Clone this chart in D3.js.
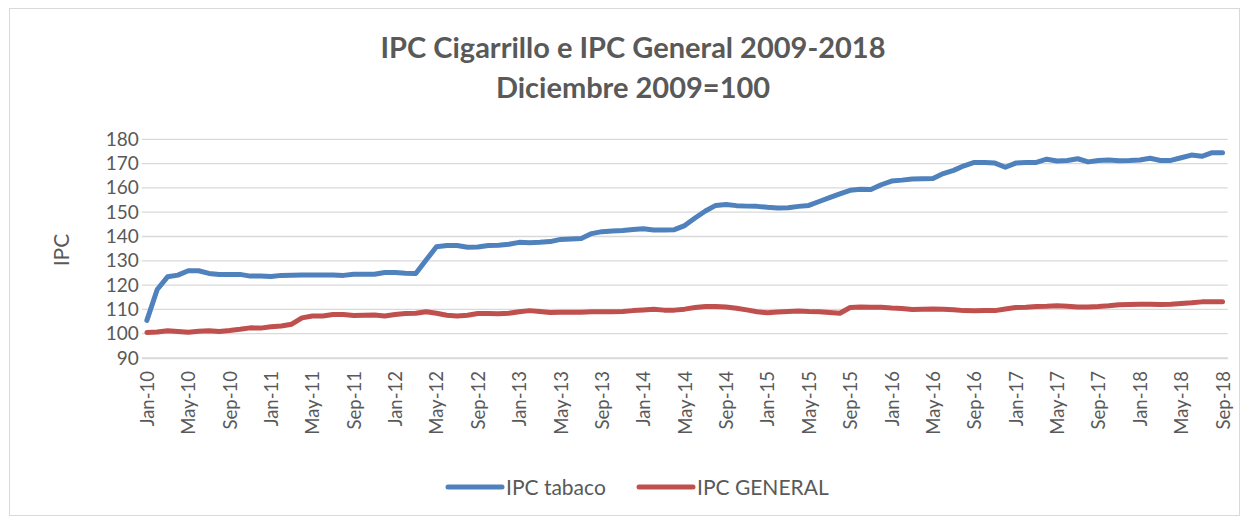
<!DOCTYPE html>
<html>
<head>
<meta charset="utf-8">
<script src="https://cdn.jsdelivr.net/npm/d3@7/dist/d3.min.js"></script>
<style>
    body { margin: 0; background: #fff; }
</style>
</head>
<body>
<div id="ipcchart"></div>
<script>
// categorias: meses Jan-10 .. Sep-18
const mesesAbrev = ["Jan", "Feb", "Mar", "Apr", "May", "Jun", "Jul", "Aug", "Sep", "Oct", "Nov", "Dec"];
const anios = ["10", "11", "12", "13", "14", "15", "16", "17", "18"];
const meses = [];
anios.forEach(a => mesesAbrev.forEach(m => meses.push(m + "-" + a)));
meses.splice(105); // hasta Sep-18

// IPC tabaco (Diciembre 2009 = 100)
const ipcTabaco = [
    105.5, 118.2, 123.4, 124.1, 125.9, 125.9, 124.8, 124.4, 124.4, 124.4,
    123.7, 123.7, 123.5, 124.0, 124.1, 124.2, 124.2, 124.2, 124.2, 124.0,
    124.5, 124.5, 124.5, 125.2, 125.2, 124.9, 124.8, 130.3, 135.8, 136.3,
    136.3, 135.6, 135.7, 136.3, 136.4, 136.8, 137.6, 137.4, 137.6, 137.9,
    138.8, 139.0, 139.2, 141.2, 142.0, 142.3, 142.5, 142.9, 143.2, 142.7,
    142.7, 142.8, 144.5, 147.6, 150.5, 152.8, 153.2, 152.7, 152.5, 152.4,
    152.0, 151.7, 151.8, 152.4, 152.8, 154.4, 156.0, 157.5, 159.0, 159.4,
    159.3, 161.3, 162.8, 163.2, 163.7, 163.8, 163.9, 165.9, 167.2, 169.1,
    170.5, 170.5, 170.2, 168.5, 170.2, 170.5, 170.5, 171.8, 171.1, 171.3,
    172.0, 170.7, 171.3, 171.5, 171.2, 171.3, 171.5, 172.2, 171.3, 171.3,
    172.4, 173.5, 173.0, 174.5, 174.5
];

// IPC general
const ipcGeneral = [
    100.5, 100.7, 101.2, 100.9, 100.6, 101.0, 101.2, 100.9, 101.3, 101.8,
    102.4, 102.3, 102.9, 103.2, 103.9, 106.5, 107.3, 107.3, 107.9, 107.9,
    107.5, 107.6, 107.7, 107.3, 107.9, 108.3, 108.4, 109.0, 108.4, 107.6,
    107.3, 107.6, 108.3, 108.3, 108.2, 108.4, 109.0, 109.5, 109.1, 108.7,
    108.8, 108.8, 108.8, 109.0, 109.0, 109.0, 109.1, 109.5, 109.8, 110.1,
    109.7, 109.7, 110.1, 110.8, 111.2, 111.2, 111.0, 110.5, 109.8, 109.0,
    108.6, 108.9, 109.1, 109.3, 109.1, 109.0, 108.7, 108.4, 110.8, 111.0,
    110.9, 110.9, 110.6, 110.4, 110.0, 110.1, 110.2, 110.1, 109.9, 109.5,
    109.4, 109.5, 109.5, 110.2, 110.8, 110.9, 111.2, 111.3, 111.5, 111.3,
    111.0, 111.0, 111.2, 111.5, 111.9, 112.0, 112.1, 112.1, 112.0, 112.1,
    112.4, 112.7, 113.1, 113.1, 113.1
];

const yTicks = [90, 100, 110, 120, 130, 140, 150, 160, 170, 180];
const series = [
    {name: "IPC tabaco", values: ipcTabaco, color: "#4f81bd"},
    {name: "IPC GENERAL", values: ipcGeneral, color: "#c0504d"}
];

const width = 1246, height = 521;
const margin = {top: 139.3, right: 18.3, bottom: 163, left: 141.7};
const plotW = width - margin.left - margin.right;
const plotH = height - margin.top - margin.bottom;
const textColor = "#595959";
const gridColor = "#d9d9d9";

const svg = d3.select("#ipcchart")
    .append("svg")
    .attr("width", width)
    .attr("height", height)
    .style("font-family", "Lato, 'Open Sans', sans-serif");

// marco del grafico
svg.append("rect")
    .attr("x", 9.5).attr("y", 8.5)
    .attr("width", 1230).attr("height", 507)
    .attr("fill", "#fff")
    .attr("stroke", gridColor);

// titulo
svg.append("text")
    .attr("x", 633).attr("y", 58)
    .attr("text-anchor", "middle")
    .style("font-size", "29px").style("font-weight", "bold")
    .attr("fill", textColor)
    .text("IPC Cigarrillo e IPC General 2009-2018");
svg.append("text")
    .attr("x", 633).attr("y", 98)
    .attr("text-anchor", "middle")
    .style("font-size", "29px").style("font-weight", "bold")
    .attr("fill", textColor)
    .text("Diciembre 2009=100");

const g = svg.append("g")
    .attr("transform", "translate(" + margin.left + "," + margin.top + ")");

const x = d3.scalePoint()
    .domain(meses)
    .range([0, plotW])
    .padding(0.5);

const y = d3.scaleLinear()
    .domain([90, 180])
    .range([plotH, 0]);

// lineas de division
g.append("g")
    .selectAll("line")
    .data(yTicks)
    .join("line")
    .attr("x1", 0).attr("x2", plotW)
    .attr("y1", d => y(d)).attr("y2", d => y(d))
    .attr("stroke", gridColor)
    .attr("stroke-width", 1.3);

// eje Y
const yAxis = g.append("g")
    .call(d3.axisLeft(y).tickValues(yTicks).tickSize(0).tickPadding(3));
yAxis.select(".domain").remove();
yAxis.selectAll("text")
    .style("font-size", "19px")
    .style("font-family", "Lato, sans-serif")
    .attr("fill", textColor);

// eje X
const xAxis = g.append("g")
    .attr("transform", "translate(0," + plotH + ")")
    .call(d3.axisBottom(x)
        .tickValues(meses.filter((d, i) => i % 4 === 0))
        .tickSize(0));
xAxis.select(".domain").attr("stroke", gridColor).attr("stroke-width", 1.3);
xAxis.selectAll("text")
    .style("font-size", "18.5px")
    .style("font-family", "Lato, sans-serif")
    .attr("fill", textColor)
    .attr("text-anchor", "end")
    .attr("dy", "0.35em")
    .attr("transform", "translate(0,13) rotate(-90)")
    .attr("x", 0).attr("y", 0);

// titulo eje Y
svg.append("text")
    .attr("transform", "translate(69,250) rotate(-90)")
    .attr("text-anchor", "middle")
    .style("font-size", "21px")
    .attr("fill", textColor)
    .text("IPC");

// lineas
const line = d3.line()
    .x((d, i) => x(meses[i]))
    .y(d => y(d));

g.selectAll(".serie")
    .data(series)
    .join("path")
    .attr("class", "serie")
    .attr("d", d => line(d.values))
    .attr("fill", "none")
    .attr("stroke", d => d.color)
    .attr("stroke-width", 5)
    .attr("stroke-linejoin", "round")
    .attr("stroke-linecap", "round");

// leyenda
const legendX = [448, 639];
const legend = svg.selectAll(".leyenda")
    .data(series)
    .join("g")
    .attr("class", "leyenda")
    .attr("transform", (d, i) => "translate(" + legendX[i] + ",487)");
legend.append("line")
    .attr("x1", 0).attr("x2", 54)
    .attr("stroke", d => d.color)
    .attr("stroke-width", 5)
    .attr("stroke-linecap", "round");
legend.append("text")
    .attr("x", 58).attr("y", 7.5)
    .style("font-size", "21px")
    .attr("fill", textColor)
    .text(d => d.name);
</script>
</body>
</html>
